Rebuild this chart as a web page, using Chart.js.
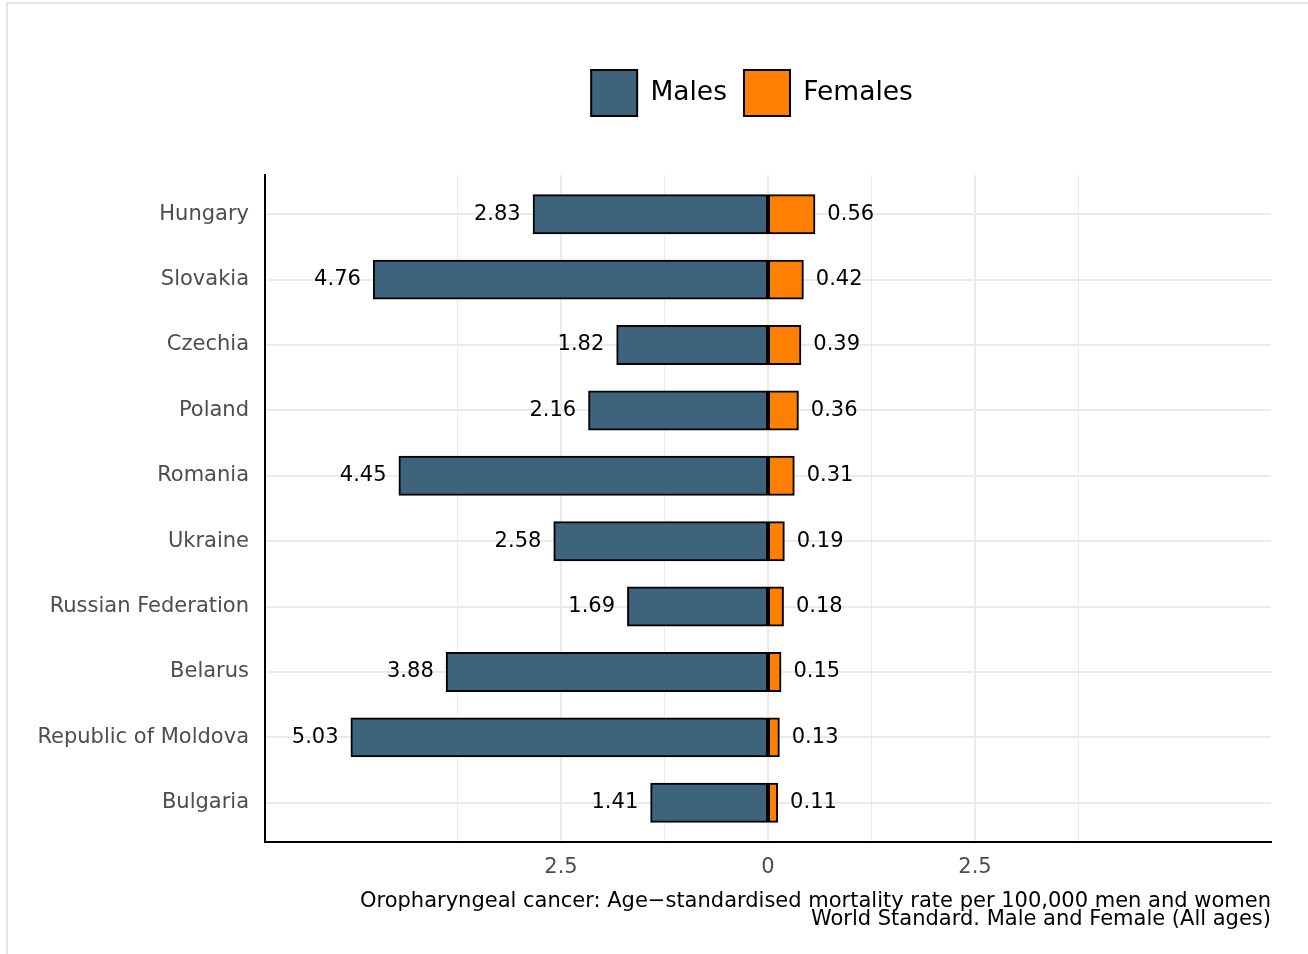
<!DOCTYPE html>
<html>
<head>
<meta charset="utf-8">
<script src="https://cdn.jsdelivr.net/npm/chart.js@4.4.1/dist/chart.umd.min.js"></script>
<style>
  html, body { margin: 0; padding: 0; background: #fff; }
  #frame {
    position: absolute; left: 6px; top: 2px; width: 1302px; height: 952px;
    border-top: 2px solid #e6e6e6; border-left: 2px solid #e6e6e6;
  }
  #wrap { position: absolute; left: 0; top: 0; width: 1308px; height: 954px; }
</style>
</head>
<body>
<div id="frame"></div>
<div id="wrap"><canvas id="chart" width="1308" height="954"></canvas></div>
<script>
const countries = ["Hungary", "Slovakia", "Czechia", "Poland", "Romania", "Ukraine",
  "Russian Federation", "Belarus", "Republic of Moldova", "Bulgaria"];
const males = [2.83, 4.76, 1.82, 2.16, 4.45, 2.58, 1.69, 3.88, 5.03, 1.41];
const females = [0.56, 0.42, 0.39, 0.36, 0.31, 0.19, 0.18, 0.15, 0.13, 0.11];
const majorTicks = [-2.5, 0, 2.5];
const minorTicks = [-3.75, -1.25, 1.25, 3.75];
const captionLines = [
  "Oropharyngeal cancer: Age\u2212standardised mortality rate per 100,000 men and women",
  "World Standard. Male and Female (All ages)"
];

Chart.defaults.font.family = "'DejaVu Sans', sans-serif";

// value labels at the bar ends
const valueLabels = {
  id: "valueLabels",
  afterDatasetsDraw(chart) {
    const ctx = chart.ctx;
    ctx.save();
    ctx.font = "21px 'DejaVu Sans'";
    ctx.fillStyle = "#000";
    ctx.textBaseline = "middle";
    chart.data.datasets.forEach((ds, di) => {
      const meta = chart.getDatasetMeta(di);
      meta.data.forEach((bar, i) => {
        const v = Math.abs(ds.data[i].x).toFixed(2);
        if (di === 0) {
          ctx.textAlign = "right";
          ctx.fillText(v, bar.x - 13, bar.y);
        } else {
          ctx.textAlign = "left";
          ctx.fillText(v, bar.x + 13, bar.y);
        }
      });
    });
    ctx.restore();
  }
};

// fixed legend height + shift it over the panel like the original
const legendPlace = {
  id: "legendPlace",
  beforeUpdate(chart, args, opts) {
    const l = chart.legend;
    if (l && !l._fixedFit) {
      const fit = l.fit;
      l.fit = function () {
        fit.call(this);
        this.height = opts.height;
      };
      l._fixedFit = true;
    }
  },
  afterLayout(chart, args, opts) {
    const l = chart.legend;
    if (!l) return;
    const dx = opts.center - (l.left + l.right) / 2;
    l.left += dx;
    l.right += dx;
  }
};

new Chart(document.getElementById("chart"), {
  type: "bar",
  data: {
    datasets: [
      {
        label: "Males",
        data: males.map((v, i) => ({ x: -v, y: i })),
        backgroundColor: "#3e637d",
        borderColor: "#000",
        borderWidth: 2,
        borderSkipped: false,
        inflateAmount: 1,
        grouped: false,
        barPercentage: 0.58,
        categoryPercentage: 1
      },
      {
        label: "Females",
        data: females.map((v, i) => ({ x: v, y: i })),
        backgroundColor: "#ff7f00",
        borderColor: "#000",
        borderWidth: 2,
        borderSkipped: false,
        inflateAmount: 1,
        grouped: false,
        barPercentage: 0.58,
        categoryPercentage: 1
      }
    ]
  },
  options: {
    indexAxis: "y",
    responsive: false,
    animation: false,
    layout: { padding: { top: 53, right: 37, left: 0, bottom: 0 } },
    plugins: {
      legend: {
        position: "top",
        labels: {
          boxWidth: 46,
          boxHeight: 46,
          padding: 17,
          color: "#000",
          font: { size: 26.5 }
        }
      },
      title: { display: false },
      tooltip: { enabled: false },
      legendPlace: { center: 752, height: 122 }
    },
    scales: {
      x: {
        type: "linear",
        min: -6.075,
        max: 6.075,
        afterBuildTicks(scale) {
          scale.ticks = [...majorTicks, ...minorTicks]
            .sort((a, b) => a - b)
            .map(v => ({ value: v }));
        },
        afterFit(scale) {
          scale.height = 112;
        },
        ticks: {
          color: "#4d4d4d",
          font: { size: 21 },
          padding: 13,
          autoSkip: false,
          maxRotation: 0,
          callback: v => (majorTicks.includes(v) ? String(Math.abs(v)) : "")
        },
        grid: {
          drawTicks: false,
          color: "#ebebeb",
          lineWidth: c => (majorTicks.includes(c.tick && c.tick.value) ? 2 : 1)
        },
        border: { display: true, color: "#000", width: 2 },
        title: {
          display: true,
          text: captionLines,
          align: "end",
          color: "#000",
          font: { size: 21, lineHeight: "18px" },
          padding: { top: 0, bottom: 25 }
        }
      },
      y: {
        type: "linear",
        reverse: true,
        offset: false,
        min: -0.6,
        max: countries.length - 0.4,
        afterBuildTicks(scale) {
          scale.ticks = countries.map((c, i) => ({ value: i }));
        },
        afterFit(scale) {
          scale.width = 265;
        },
        ticks: {
          color: "#4d4d4d",
          font: { size: 21 },
          padding: 16,
          autoSkip: false,
          callback: v => countries[v]
        },
        grid: {
          offset: false,
          drawTicks: false,
          color: "#ebebeb",
          lineWidth: 2
        },
        border: { display: true, color: "#000", width: 2 }
      }
    }
  },
  plugins: [valueLabels, legendPlace]
});
</script>
</body>
</html>
